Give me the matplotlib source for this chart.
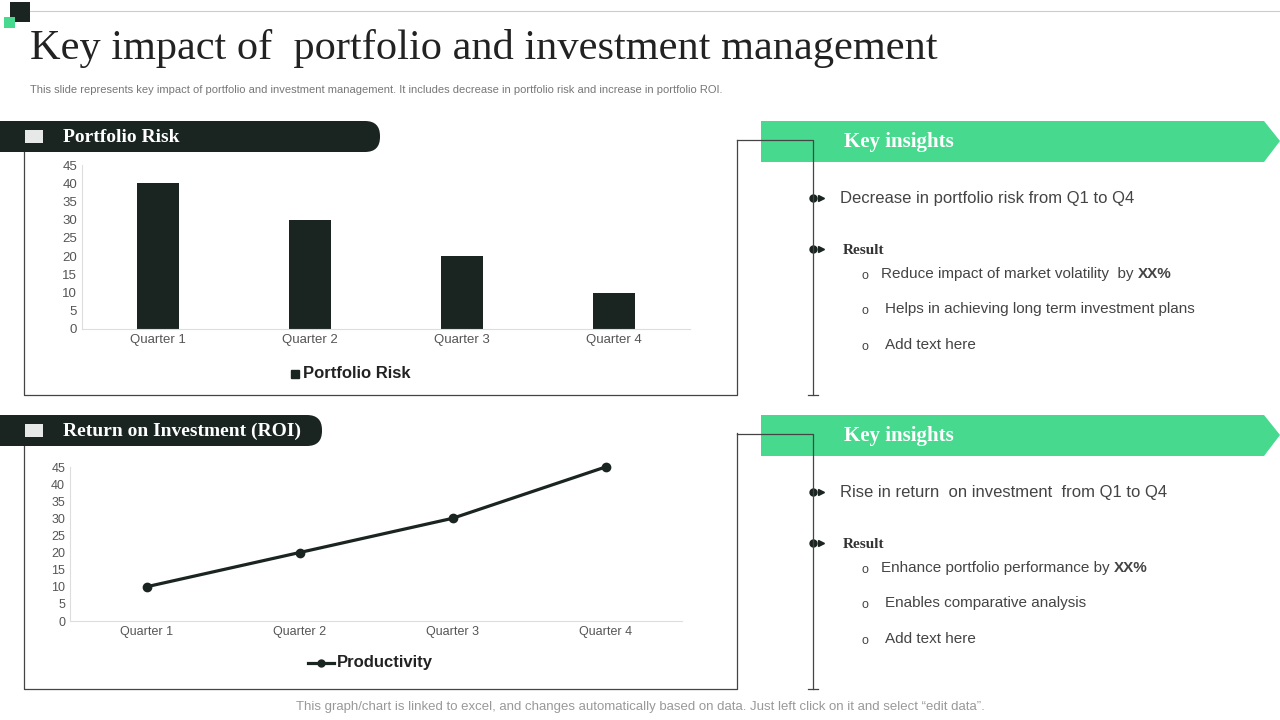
import matplotlib.pyplot as plt
from matplotlib.patches import Rectangle, FancyBboxPatch, Polygon

plt.rcParams["font.family"] = "Liberation Sans"

W, H = 1280, 720
DARK = "#1a2420"
GREEN = "#47d98e"

quarters = ["Quarter 1", "Quarter 2", "Quarter 3", "Quarter 4"]
risk_values = [40, 30, 20, 10]
roi_values = [10, 20, 30, 45]
y_ticks = [0, 5, 10, 15, 20, 25, 30, 35, 40, 45]

fig = plt.figure(figsize=(12.8, 7.2), dpi=100)
bg = fig.add_axes([0, 0, 1, 1])
bg.set_xlim(0, W)
bg.set_ylim(H, 0)
bg.axis("off")


def px_axes(x0, y0, x1, y1):
    return fig.add_axes([x0 / W, 1 - y1 / H, (x1 - x0) / W, (y1 - y0) / H])


# header decoration
bg.add_patch(Rectangle((10, 2), 20, 20, facecolor=DARK))
bg.add_patch(Rectangle((4, 17), 11, 11, facecolor=GREEN))
bg.plot([30, 1280], [11, 11], color="#cccccc", lw=0.8)
bg.text(30, 48, "Key impact of  portfolio and investment management", fontsize=30.5,
        family="Liberation Serif", color="#222222", va="center")
bg.text(30, 90, "This slide represents key impact of portfolio and investment management. It includes decrease in portfolio risk and increase in portfolio ROI.",
        fontsize=8, color="#777777", va="center")

# chart frames (left, bottom, right sides only)
for top, bottom in [(140, 395), (433, 689)]:
    bg.plot([24, 24, 737, 737], [top + 12, bottom, bottom, top], color="#444444", lw=0.9)

# section banners
for y, label, w in [(121, "Portfolio Risk", 380), (415, "Return on Investment (ROI)", 322)]:
    bg.add_patch(FancyBboxPatch((0, y), w, 31, boxstyle="round,pad=0,rounding_size=15",
                                facecolor=DARK, edgecolor="none", zorder=3))
    bg.add_patch(Rectangle((0, y), 30, 31, facecolor=DARK, zorder=3))
    bg.text(63, y + 16, label, fontsize=14, family="Liberation Serif", fontweight="bold",
            color="white", va="center", zorder=4)
    bg.add_patch(Rectangle((25, y + 9), 18, 13, facecolor="white", edgecolor="none",
                           alpha=0.9, zorder=4))

# insight panels
panels = [
    (121, "Decrease in portfolio risk from Q1 to Q4",
     ["Reduce impact of market volatility  by ", "Helps in achieving long term investment plans", "Add text here"]),
    (415, "Rise in return  on investment  from Q1 to Q4",
     ["Enhance portfolio performance by ", "Enables comparative analysis", "Add text here"]),
]
for y, headline, items in panels:
    bg.add_patch(Polygon([(761, y), (1264, y), (1280, y + 20), (1264, y + 41), (761, y + 41)],
                         facecolor=GREEN, edgecolor="none"))
    bg.text(844, y + 21, "Key insights", fontsize=15, family="Liberation Serif", fontweight="bold",
            color="white", va="center")
    bg.plot([737, 813, 813], [y + 19, y + 19, y + 274], color="#444444", lw=0.9, zorder=5)
    bg.plot([808, 818], [y + 274, y + 274], color="#444444", lw=0.9)
    for yy in (y + 77, y + 128):
        bg.plot(813, yy, "o", color=DARK, ms=5)
        bg.plot(821, yy, ">", color=DARK, ms=4)
    bg.text(840, y + 77, headline, fontsize=12, color="#444444", va="center")
    bg.text(843, y + 129, "Result", fontsize=11, family="Liberation Serif", fontweight="bold",
            color="#333333", va="center")
    for i, item in enumerate(items):
        yy = y + 153 + i * 35.5
        bg.text(862, yy + 2, "o", fontsize=9, color="#444444", va="center")
        t = bg.text(881 if i == 0 else 885, yy, item, fontsize=11, color="#444444", va="center")
        if i == 0:
            bg.annotate("XX%", xycoords=t, xy=(1, 0.5), va="center", fontsize=11,
                        fontweight="bold", color="#444444")

# bar chart
ax1 = px_axes(82, 165, 690, 329)
ax1.bar(range(len(quarters)), risk_values, width=0.27, color=DARK)
ax1.set_xlim(-0.5, 3.5)
ax1.set_ylim(0, 45)
ax1.set_yticks(y_ticks)
ax1.set_xticks(range(len(quarters)))
ax1.set_xticklabels(quarters)
for s in ["top", "right"]:
    ax1.spines[s].set_visible(False)
ax1.spines["left"].set_color("#dddddd")
ax1.spines["bottom"].set_color("#dddddd")
ax1.tick_params(length=0, labelsize=9.5, colors="#555555")
bg.plot(295, 374, "s", color=DARK, ms=6)
bg.text(303, 374, "Portfolio Risk", fontsize=12, fontweight="bold", color="#222222", va="center")

# line chart
ax2 = px_axes(70, 467, 682, 621)
ax2.plot(range(len(quarters)), roi_values, color=DARK, lw=2.3, marker="o", ms=6, clip_on=False)
ax2.set_xlim(-0.5, 3.5)
ax2.set_ylim(0, 45)
ax2.set_yticks(y_ticks)
ax2.set_xticks(range(len(quarters)))
ax2.set_xticklabels(quarters)
for s in ["top", "right"]:
    ax2.spines[s].set_visible(False)
ax2.spines["left"].set_color("#dddddd")
ax2.spines["bottom"].set_color("#dddddd")
ax2.tick_params(length=0, labelsize=9, colors="#555555")
bg.plot([308, 334], [663, 663], color=DARK, lw=2.3)
bg.plot(321, 663, "o", color=DARK, ms=5)
bg.text(337, 663, "Productivity", fontsize=12, fontweight="bold", color="#222222", va="center")

bg.text(640, 707, "This graph/chart is linked to excel, and changes automatically based on data. Just left click on it and select \u201cedit data\u201d.",
        fontsize=9.5, color="#999999", ha="center", va="center")

fig.savefig("out.png", dpi=100)
